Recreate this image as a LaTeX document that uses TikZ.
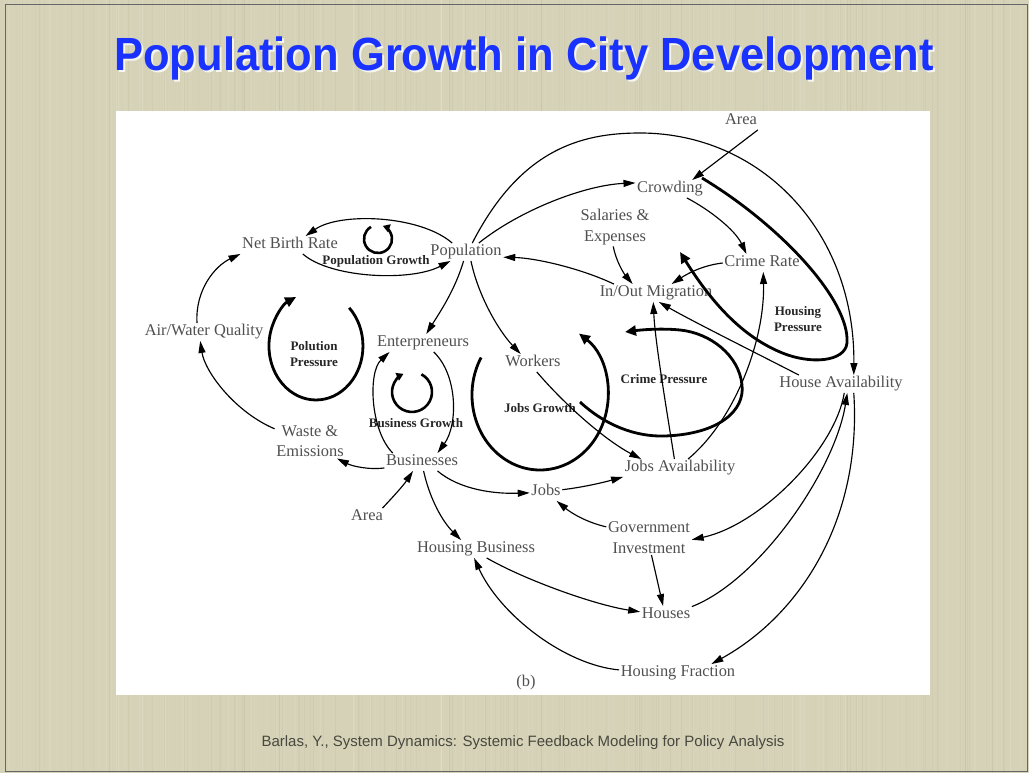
\documentclass[tikz,border=0pt]{standalone}
\usepackage{fontspec}
\setmainfont{Liberation Serif}
\newfontfamily\sansf{Liberation Sans}
\usetikzlibrary{arrows.meta,calc}
\definecolor{bg}{RGB}{213,210,183}
\definecolor{ttl}{RGB}{25,50,255}
\definecolor{txt}{RGB}{80,80,80}
\definecolor{foot}{RGB}{72,72,62}
\begin{document}
\begin{tikzpicture}[x=1pt,y=-1pt,
 lbl/.style={font=\fontsize{16.4}{20.5}\selectfont, text=txt, inner sep=1.5pt, text height=11pt, text depth=3.5pt},
 lbltwo/.style={font=\fontsize{16.4}{20.5}\selectfont, text=txt, inner sep=1.5pt, align=center},
 looplbl/.style={font=\bfseries\fontsize{13}{15.5}\selectfont, text=black!85, inner sep=0pt, align=center},
 conn/.style={line width=1.15pt, -{Triangle[length=12pt,width=7pt]}},
 loopbig/.style={line width=2.8pt, -{Triangle[length=11pt,width=10pt]}},
 loopsmall/.style={line width=2.6pt, -{Triangle[length=7pt,width=8pt]}}]

\useasboundingbox (0,0) rectangle (1029,773);
\fill[bg] (0,0) rectangle (1029,773);
\pgfmathsetseed{7}
\foreach \i in {1,...,260}{
  \pgfmathsetmacro{\xx}{random(0,1029)}
  \pgfmathsetmacro{\op}{0.03+0.06*rnd}
  \draw[white, opacity=\op, line width=0.8pt] (\xx,0) -- (\xx,773);
}
\foreach \i in {1,...,120}{
  \pgfmathsetmacro{\xx}{random(0,1029)}
  \pgfmathsetmacro{\op}{0.015+0.03*rnd}
  \draw[black!60!brown, opacity=\op, line width=0.7pt] (\xx,0) -- (\xx,773);
}
\draw[black!60, line width=1pt] (5,5) rectangle (1027,771);
\fill[white] (116,111) rectangle (930,695);

% title and footer
\node[anchor=base, font=\sansf\bfseries\fontsize{43.5}{50}\selectfont, text=white, opacity=0.8] at (526,73) {\scalebox{1}[1.07]{Population Growth in City Development}};
\node[anchor=base, font=\sansf\bfseries\fontsize{43.5}{50}\selectfont, text=ttl] (title) at (524,71) {\scalebox{1}[1.07]{Population Growth in City Development}};
\node[anchor=base, font=\sansf\fontsize{15}{18}\selectfont, text=foot] (foot) at (523,746) {Barlas, Y., System Dynamics: Systemic Feedback Modeling for Policy Analysis};

% variables
\node[lbl] (areaT) at (741,121) {Area};
\node[lbl] (crowd) at (670,189) {Crowding};
\node[lbltwo] (sal) at (615,227) {Salaries \&\\Expenses};
\node[lbl] (nbr) at (290,245) {Net Birth Rate};
\node[lbl] (pop) at (466,252) {Population};
\node[lbl] (crime) at (762,263) {Crime Rate};
\node[lbl] (mig) at (656,293) {In/Out Migration};
\node[lbl] (air) at (204,332) {Air/Water Quality};
\node[lbl] (ent) at (423,343) {Enterpreneurs};
\node[lbl] (work) at (533,363) {Workers};
\node[lbl] (hav) at (841,384) {House Availability};
\node[lbltwo] (waste) at (310,441) {Waste \&\\Emissions};
\node[lbl] (bus) at (422,462) {Businesses};
\node[lbl] (jav) at (680,468) {Jobs Availability};
\node[lbl] (jobs) at (546,492) {Jobs};
\node[lbl] (areaB) at (367,517) {Area};
\node[lbltwo] (gov) at (649,537.5) {Government\\Investment};
\node[lbl] (hbus) at (476,549) {Housing Business};
\node[lbl] (houses) at (666,615) {Houses};
\node[lbl] (hfrac) at (678,673) {Housing Fraction};
\node[lbl] (cap) at (526,683) {(b)};

% loop labels
\node[looplbl] (lpg) at (376,261) {Population Growth};
\node[looplbl] (lpp) at (314,354) {Polution\\Pressure};
\node[looplbl] (lbg) at (416,423) {Business Growth};
\node[looplbl] (ljg) at (540,408) {Jobs Growth};
\node[looplbl] (lcp) at (664,379) {Crime Pressure};
\node[looplbl] (lhp) at (798,319) {Housing\\Pressure};

% loop arrows
\draw[loopsmall] (371,226.9) arc[start angle=-120, end angle=-430, radius=14];
\draw[loopsmall] (421.4,374.3) arc[start angle=-62, end angle=245, radius=20];
\draw[loopbig] (349.2,307.8) arc[start angle=-45, end angle=245, x radius=47, y radius=54];
\draw[loopbig] (481.1,357.5) arc[start angle=-150, end angle=-415, x radius=68, y radius=75];
\draw[loopbig] (580,402) .. controls (605,425) and (635,437) .. (665,436)
  .. controls (720,434) and (745,410) .. (742,385)
  .. controls (739,355) and (710,333) .. (680,330)
  .. controls (660,328) and (640,330) .. (625,332);
\draw[loopbig] (702,178) .. controls (780,225) and (850,300) .. (847,343)
  .. controls (845,362) and (810,365) .. (780,352)
  .. controls (740,335) and (710,300) .. (680,252);

% connectors
\draw[conn] (pop.147) .. controls (420,215) and (340,212) .. (nbr.30);
\draw[conn] (nbr.-35) .. controls (330,278) and (410,282) .. (pop.210);
\draw[conn] (air.128) .. controls (195,290) and (215,266) .. (nbr.south west);
\draw[conn] (waste.161) .. controls (235,412) and (205,372) .. (air.247);
\draw[conn] (bus.189) .. controls (368,470) and (352,466) .. (waste.-33);
\draw[conn] (areaB.30) .. controls (392,498) and (403,486) .. (bus.225);
\draw[conn] (bus.163) .. controls (370,430) and (368,372) .. (ent.195);
\draw[conn] (ent.-40) .. controls (458,375) and (458,425) .. (bus.30);
\draw[conn] (pop.255) .. controls (455,290) and (440,312) .. (ent.70);
\draw[conn] (pop.-61) .. controls (478,295) and (498,330) .. (work.144);
\draw[conn] (work.-67) .. controls (565,405) and (605,440) .. (jav.167);
\draw[conn] (bus.-30) .. controls (460,490) and (495,494) .. (jobs.183);
\draw[conn] (jobs.8) .. controls (585,487) and (605,482) .. (jav.south west);
\draw[conn] (gov.166) .. controls (585,522) and (570,512) .. (jobs.-40);
\draw[conn] (bus.-80) .. controls (430,500) and (443,522) .. (hbus.149);
\draw[conn] (hbus.-40) .. controls (525,580) and (595,605) .. (houses.173);
\draw[conn] (hfrac.177) .. controls (565,665) and (500,615) .. (hbus.258);
\draw[conn] (gov.-82) -- (houses.108);
\draw[conn] (houses.18) .. controls (760,580) and (835,470) .. (hav.-55);
\draw[conn] (hav.-70) .. controls (835,450) and (760,525) .. (gov.-3);
\draw[conn] (hav.-35) .. controls (862,520) and (800,615) .. (hfrac.15);
\draw[conn] (pop.55) .. controls (520,150) and (580,133) .. (640,133) .. controls (760,133) and (855,230) .. (hav.35);
\draw[conn] (pop.35) .. controls (520,210) and (585,185) .. (crowd.170);
\draw[conn] (areaT.-28) -- (crowd.22);
\draw[conn] (crowd.-28) .. controls (710,210) and (735,230) .. (crime.150);
\draw[conn] (sal.265) .. controls (616,262) and (625,275) .. (mig.159);
\draw[conn] (crime.180) .. controls (705,265) and (690,272) .. (mig.30);
\draw[conn] (mig.168) .. controls (580,268) and (535,258) .. (pop.-8);
\draw[conn] (jav.122) .. controls (665,400) and (655,340) .. (mig.253);
\draw[conn] (hav.168) .. controls (760,355) and (690,320) .. (mig.-72);
\draw[conn] (jav.48) .. controls (735,420) and (765,340) .. (crime.-82);
\end{tikzpicture}
\end{document}
